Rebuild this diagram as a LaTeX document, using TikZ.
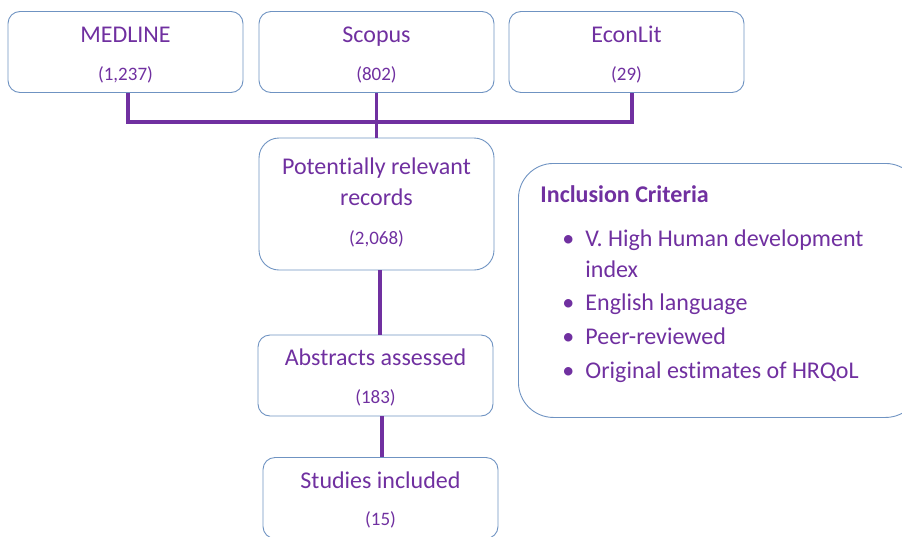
\documentclass[tikz,border=0pt]{standalone}
\usepackage{fontspec}
\setmainfont{Carlito}[Ligatures=NoCommon]
\usepackage{xcolor}
\usepackage{tikz}
\usetikzlibrary{positioning,calc}
\definecolor{prpurple}{HTML}{7030A0}
\definecolor{prblue}{HTML}{6F93C2}
\newcommand{\prnum}[1]{{\fontsize{19}{23}\selectfont #1}}
\newcommand{\prbul}{\hspace*{22pt}\makebox[23pt][l]{\textbullet}}
\newcommand{\prtop}{\rule{0pt}{21pt}}

\begin{document}
\begin{tikzpicture}[x=1pt,y=-1pt,
    prbox/.style={draw=prblue,line width=0.9pt,rounded corners=12pt,
      minimum width=235pt,minimum height=81pt,inner sep=0pt,align=center,
      text=prpurple,font=\fontsize{24}{29}\selectfont},
    prlink/.style={draw=prpurple,line width=3.2pt}]
  \useasboundingbox (0,0) rectangle (902,536);
  % database searches
  \foreach \nm/\lab/\num/\cx in {
      medline/MEDLINE/{(1,237)}/125.5,
      scopus/Scopus/{(802)}/376.5,
      econlit/EconLit/{(29)}/626.5} {
    \node[prbox] (\nm) at (\cx,52) {\prtop\lab\\[9pt]\prnum{\num}};
  }
  % screening stages
  \node[prbox,minimum height=132pt,rounded corners=20pt] (potential) at (376.5,204)
    {Potentially relevant\\[2pt]records\\[10pt]\prnum{(2,068)}\\[-23pt]\mbox{}};
  \node[prbox] (abstracts) at (375.5,375.5) {\prtop Abstracts assessed\\[9pt]\prnum{(183)}};
  \node[prbox] (studies) at (380.5,498) {\prtop Studies included\\[8pt]\prnum{(15)}};
  % criteria panel
  \node[prbox,anchor=north west,minimum width=402pt,minimum height=254pt,
    rounded corners=35pt,align=flush left,text width=358pt,inner xsep=22pt]
    (criteria) at (518,163)
    {\textbf{Inclusion Criteria}\\[15pt]
     \prbul V. High Human development\\[2pt]
     \hspace*{45pt}index\\[4pt]
     \prbul English language\\[5pt]
     \prbul Peer-reviewed\\[5pt]
     \prbul Original estimates of HRQoL\\[-13pt]\mbox{}};
  % connectors
  \coordinate (join) at (377,122);
  \draw[prlink] ([xshift=2.5pt]medline.south) |- (join) -| ([xshift=5.5pt]econlit.south);
  \draw[prlink] (scopus.south) -- (potential.north);
  \draw[prlink] ([xshift=3.5pt]potential.south) -- ([xshift=4.5pt]abstracts.north);
  \draw[prlink] ([xshift=6.5pt]abstracts.south) -- ([xshift=1.5pt]studies.north);
\end{tikzpicture}
\end{document}
